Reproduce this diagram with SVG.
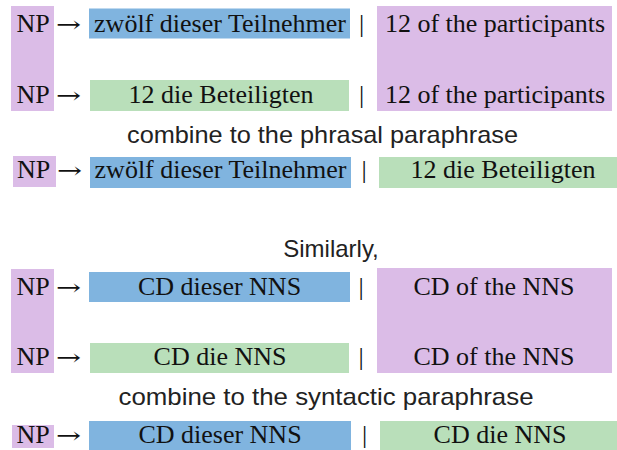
<svg xmlns="http://www.w3.org/2000/svg" width="617" height="450" viewBox="0 0 617 450">
<style>
.blue{fill:#80b4df}
.green{fill:#b9dfba}
.purple{fill:#dbbce7}
.s{font-family:"Liberation Serif","Times New Roman",serif;font-size:26px;fill:#111}
.a{font-family:"DejaVu Serif","DejaVu Sans",serif;font-size:22px;fill:#111}
.m{text-anchor:middle}
.h{font-family:"Liberation Sans",Arial,sans-serif;font-size:24px;fill:#222;text-anchor:middle}
</style>
<rect width="617" height="450" fill="#fff"/>
<g id="group1">
<rect class="purple" x="11" y="6" width="43" height="105"/>
<rect class="purple" x="377" y="6" width="235" height="105"/>
<g id="row1">
<rect class="blue" x="89" y="8.5" width="261" height="30"/>
<text class="s" x="16.5" y="32">NP</text>
<text class="a" x="56" y="32" textLength="25" lengthAdjust="spacingAndGlyphs">→</text>
<text class="s m" x="220" y="32">zwölf dieser Teilnehmer</text>
<text class="s" x="359" y="32">|</text>
<text class="s m" x="495" y="32">12 of the participants</text>
</g>
<g id="row2">
<rect class="green" x="90" y="80" width="259" height="31"/>
<text class="s" x="16.5" y="103">NP</text>
<text class="a" x="56" y="103" textLength="25" lengthAdjust="spacingAndGlyphs">→</text>
<text class="s m" x="221" y="103">12 die Beteiligten</text>
<text class="s" x="359" y="103">|</text>
<text class="s m" x="495" y="103">12 of the participants</text>
</g>
</g>
<text id="caption1" class="h" x="322.5" y="143" textLength="391" lengthAdjust="spacingAndGlyphs">combine to the phrasal paraphrase</text>
<g id="row3">
<rect class="purple" x="13" y="156" width="43" height="31"/>
<rect class="blue" x="90" y="157" width="261" height="31"/>
<rect class="green" x="379" y="157" width="238" height="31"/>
<text class="s" x="17" y="178">NP</text>
<text class="a" x="57" y="178" textLength="25" lengthAdjust="spacingAndGlyphs">→</text>
<text class="s m" x="220.5" y="178">zwölf dieser Teilnehmer</text>
<text class="s" x="361.5" y="178">|</text>
<text class="s m" x="503" y="178">12 die Beteiligten</text>
</g>
<text id="similarly" class="h" x="331" y="256.5">Similarly,</text>
<g id="group2">
<rect class="purple" x="11" y="269" width="43" height="104"/>
<rect class="purple" x="377" y="268" width="235" height="105"/>
<g id="row4">
<rect class="blue" x="89" y="272" width="261" height="30"/>
<text class="s" x="16.5" y="295">NP</text>
<text class="a" x="56" y="295" textLength="25" lengthAdjust="spacingAndGlyphs">→</text>
<text class="s m" x="219.5" y="295">CD dieser NNS</text>
<text class="s" x="358.5" y="295">|</text>
<text class="s m" x="494" y="295">CD of the NNS</text>
</g>
<g id="row5">
<rect class="green" x="90" y="343" width="259" height="30"/>
<text class="s" x="16.5" y="365">NP</text>
<text class="a" x="56" y="365" textLength="25" lengthAdjust="spacingAndGlyphs">→</text>
<text class="s m" x="220" y="365">CD die NNS</text>
<text class="s" x="358.5" y="365">|</text>
<text class="s m" x="494" y="365">CD of the NNS</text>
</g>
</g>
<text id="caption2" class="h" x="326" y="405" textLength="415" lengthAdjust="spacingAndGlyphs">combine to the syntactic paraphrase</text>
<g id="row6">
<rect class="purple" x="12" y="425" width="42" height="23"/>
<rect class="blue" x="89" y="421" width="262" height="29"/>
<rect class="green" x="380" y="421" width="237" height="29"/>
<text class="s" x="16.5" y="443">NP</text>
<text class="a" x="56" y="443" textLength="25" lengthAdjust="spacingAndGlyphs">→</text>
<text class="s m" x="220" y="443">CD dieser NNS</text>
<text class="s" x="362" y="443">|</text>
<text class="s m" x="500" y="443">CD die NNS</text>
</g>
</svg>
